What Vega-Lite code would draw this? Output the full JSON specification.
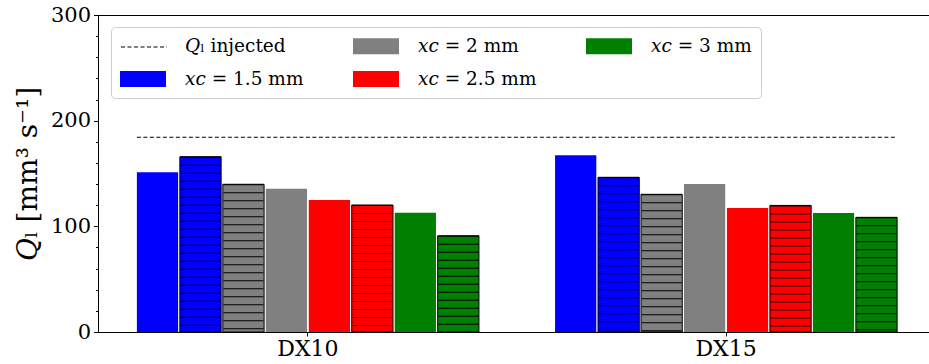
{
  "$schema": "https://vega.github.io/schema/vega-lite/v6.json",
  "width": 838,
  "height": 317,
  "autosize": {"type": "none"},
  "padding": {"left": 98, "top": 15, "right": 0, "bottom": 32},
  "config": {
    "view": {"stroke": "black", "strokeWidth": 1},
    "font": "DejaVu Serif"
  },
  "resolve": {"axis": {"y": "independent"}},
  "datasets": {
    "bars": [
      {"case": "DX10", "xc": "𝑥𝑐 = 1.5 mm", "series": "1.5 plain", "hatched": false, "Q": 151.1},
      {"case": "DX10", "xc": "𝑥𝑐 = 1.5 mm", "series": "1.5 hatched", "hatched": true, "Q": 165.9},
      {"case": "DX10", "xc": "𝑥𝑐 = 2 mm", "series": "2 hatched", "hatched": true, "Q": 139.8},
      {"case": "DX10", "xc": "𝑥𝑐 = 2 mm", "series": "2 plain", "hatched": false, "Q": 135.6},
      {"case": "DX10", "xc": "𝑥𝑐 = 2.5 mm", "series": "2.5 plain", "hatched": false, "Q": 124.9},
      {"case": "DX10", "xc": "𝑥𝑐 = 2.5 mm", "series": "2.5 hatched", "hatched": true, "Q": 120.2},
      {"case": "DX10", "xc": "𝑥𝑐 = 3 mm", "series": "3 plain", "hatched": false, "Q": 112.9},
      {"case": "DX10", "xc": "𝑥𝑐 = 3 mm", "series": "3 hatched", "hatched": true, "Q": 91.1},
      {"case": "DX15", "xc": "𝑥𝑐 = 1.5 mm", "series": "1.5 plain", "hatched": false, "Q": 167.2},
      {"case": "DX15", "xc": "𝑥𝑐 = 1.5 mm", "series": "1.5 hatched", "hatched": true, "Q": 146.4},
      {"case": "DX15", "xc": "𝑥𝑐 = 2 mm", "series": "2 hatched", "hatched": true, "Q": 130.3},
      {"case": "DX15", "xc": "𝑥𝑐 = 2 mm", "series": "2 plain", "hatched": false, "Q": 140.1},
      {"case": "DX15", "xc": "𝑥𝑐 = 2.5 mm", "series": "2.5 plain", "hatched": false, "Q": 117.3},
      {"case": "DX15", "xc": "𝑥𝑐 = 2.5 mm", "series": "2.5 hatched", "hatched": true, "Q": 119.8},
      {"case": "DX15", "xc": "𝑥𝑐 = 3 mm", "series": "3 plain", "hatched": false, "Q": 112.6},
      {"case": "DX15", "xc": "𝑥𝑐 = 3 mm", "series": "3 hatched", "hatched": true, "Q": 108.5}
    ],
    "inj": [{"from": "DX10", "to": "DX15", "Q": 184.3, "name": "𝑄ₗ injected"}]
  },
  "layer": [
    {
      "data": {"name": "bars"},
      "mark": {"type": "bar", "stroke": "black"},
      "encoding": {
        "x": {
          "field": "case", "type": "nominal",
          "scale": {"paddingInner": 0.182, "paddingOuter": 0.093},
          "axis": {"title": null, "labelAngle": 0, "labelFontSize": 22, "labelColor": "black", "tickColor": "black", "domainColor": "black", "tickSize": 4, "labelPadding": 2, "grid": false, "labelFont": "DejaVu Serif"}
        },
        "xOffset": {
          "field": "series", "type": "nominal",
          "scale": {"domain": ["1.5 plain", "1.5 hatched", "2 hatched", "2 plain", "2.5 plain", "2.5 hatched", "3 plain", "3 hatched"], "paddingInner": 0.04, "paddingOuter": 0}
        },
        "y": {
          "field": "Q", "type": "quantitative",
          "scale": {"domain": [0, 300], "nice": false},
          "axis": {
            "orient": "left",
            "title": "𝑄ₗ [mm³ s⁻¹]", "titleFont": "DejaVu Serif", "titleFontSize": 28, "titleFontWeight": "normal", "titleColor": "black",
            "titleX": -70, "titleAlign": "center", "titleBaseline": "middle", "titleAngle": -90,
            "values": [0, 100, 200, 300], "labelOverlap": false,
            "tickSize": 4.5, "labelFontSize": 21,
            "labelFont": "DejaVu Serif", "labelColor": "black", "tickColor": "black", "domainColor": "black", "grid": false, "labelPadding": 3
          }
        },
        "color": {
          "field": "xc", "type": "nominal",
          "scale": {
            "domain": ["𝑄ₗ injected", "𝑥𝑐 = 1.5 mm", "𝑥𝑐 = 2 mm", "𝑥𝑐 = 2.5 mm", "𝑥𝑐 = 3 mm"],
            "range": ["rgba(0,0,0,0)", "#0000ff", "#808080", "#ff0000", "#008000"]
          },
          "legend": {
            "orient": "none", "legendX": 13, "legendY": 12, "columns": 3, "title": null,
            "labelFont": "DejaVu Serif", "labelFontSize": 18.5, "labelColor": "black", "labelLimit": 300,
            "symbolType": "M-2.3,-0.8H2.3V0.8H-2.3Z", "symbolSize": 400, "symbolStrokeWidth": 0, "symbolOffset": 13,
            "labelOffset": 32, "columnPadding": 49, "rowPadding": 13, "padding": 9,
            "strokeColor": "#cccccc", "fillColor": "rgba(255,255,255,0.8)", "cornerRadius": 4
          }
        },
        "strokeWidth": {"condition": {"test": "datum.hatched", "value": 1}, "value": 0}
      }
    },
    {
      "data": {"name": "bars"},
      "transform": [{"filter": "datum.hatched"}],
      "mark": {"type": "rule", "color": "black", "strokeWidth": 40, "strokeDash": [1, 7], "strokeCap": "butt"},
      "encoding": {
        "x": {"field": "case", "type": "nominal"},
        "xOffset": {"field": "series", "type": "nominal"},
        "y": {
          "field": "Q", "type": "quantitative",
          "axis": {
            "orient": "left", "title": null, "labels": false, "domain": false, "grid": false,
            "values": [0, 20, 40, 60, 80, 100, 120, 140, 160, 180, 200, 220, 240, 260, 280, 300],
            "tickSize": 2.5, "tickColor": "black"
          }
        },
        "y2": {"datum": 0}
      }
    },
    {
      "data": {"name": "inj"},
      "mark": {"type": "rule", "color": "black", "strokeWidth": 1},
      "encoding": {
        "x": {"field": "from", "type": "nominal", "bandPosition": 0},
        "x2": {"field": "to", "bandPosition": 1},
        "y": {"field": "Q", "type": "quantitative", "axis": null},
        "strokeDash": {
          "field": "name", "type": "nominal",
          "scale": {"range": [[4, 2.5]]},
          "legend": {
            "orient": "none", "legendX": 13, "legendY": 12, "title": null, "padding": 9,
            "labelExpr": "''", "symbolType": "M-2.3,0H2.3", "symbolSize": 400, "symbolOffset": 13,
            "symbolStrokeColor": "black", "symbolStrokeWidth": 1.2
          }
        }
      }
    }
  ]
}
